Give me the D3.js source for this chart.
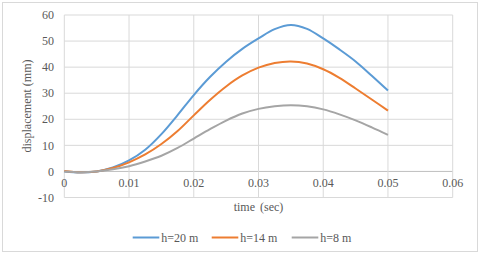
<!DOCTYPE html>
<html>
<head>
<meta charset="utf-8">
<script src="https://d3js.org/d3.v7.min.js"></script>
<style>
  body { margin: 0; background: #fff; }
</style>
</head>
<body>
<div id="chart"></div>
<script>
// time steps (sec) and the displacement (mm) for each height
var times = [0, 0.0025, 0.005, 0.0075, 0.01, 0.0125, 0.015, 0.0175, 0.02, 0.0225, 0.025,
             0.0275, 0.03, 0.0325, 0.035, 0.0375, 0.04, 0.0425, 0.045, 0.0475, 0.05];
var h20 = [0, -0.4, 0, 1.5, 4.2, 8.3, 14.3, 21.6, 29.3, 36.2, 42.1,
           47, 51, 54.6, 56.2, 54.7, 51, 46.8, 42.2, 36.7, 31];
var h14 = [0.2, -0.3, 0, 1.3, 3.5, 6.5, 10.5, 15.5, 21.5, 27.4, 32.6,
           36.8, 39.8, 41.6, 42.2, 41.4, 39.2, 35.9, 31.8, 27.6, 23.3];
var h8 = [0, -0.3, 0, 0.8, 2, 3.8, 6, 9, 12.6, 16.2, 19.5,
          22.2, 24, 25, 25.4, 25, 23.8, 21.9, 19.6, 16.9, 14];
var seriesNames = ["h=20 m", "h=14 m", "h=8 m"];
var xTicks = [0, 0.01, 0.02, 0.03, 0.04, 0.05, 0.06];
var yTicks = [-10, 0, 10, 20, 30, 40, 50, 60];

var width = 480, height = 254;
var colors = ["#5b9bd5", "#ed7d31", "#a5a5a5"];
var font = "Liberation Serif";

var svg = d3.select("#chart").append("svg")
    .attr("width", width)
    .attr("height", height)
    .attr("font-family", font)
    .attr("fill", "#595959");

// chart border
svg.append("rect")
    .attr("x", 2.5).attr("y", 2.5)
    .attr("width", 475).attr("height", 249)
    .attr("fill", "#fff")
    .attr("stroke", "#d9d9d9");

var x = d3.scaleLinear().domain([0, 0.06]).range([64.3, 452.7]);
var y = d3.scaleLinear().domain([-10, 60]).range([197.5, 15]);

// gridlines
svg.append("g").selectAll("line")
    .data(yTicks)
    .enter().append("line")
    .attr("x1", x(0)).attr("x2", x(0.06))
    .attr("y1", function(d) { return y(d); })
    .attr("y2", function(d) { return y(d); })
    .attr("stroke", function(d) { return d == 0 ? "#bfbfbf" : "#d9d9d9"; });

svg.append("g").selectAll("line")
    .data(xTicks)
    .enter().append("line")
    .attr("y1", y(-10)).attr("y2", y(60))
    .attr("x1", function(d) { return x(d); })
    .attr("x2", function(d) { return x(d); })
    .attr("stroke", "#d9d9d9");

// tick labels
svg.append("g").selectAll("text")
    .data(yTicks)
    .enter().append("text")
    .attr("x", 54)
    .attr("y", function(d) { return y(d); })
    .attr("dy", "0.35em")
    .attr("text-anchor", "end")
    .attr("font-size", 12)
    .text(function(d) { return d; });

svg.append("g").selectAll("text")
    .data(xTicks)
    .enter().append("text")
    .attr("x", function(d) { return x(d); })
    .attr("y", 187)
    .attr("text-anchor", "middle")
    .attr("font-size", 12)
    .text(function(d) { return d; });

// axis titles
svg.append("text")
    .attr("x", 258.5).attr("y", 211)
    .attr("text-anchor", "middle")
    .attr("font-size", 12)
    .attr("word-spacing", 2)
    .text("time (sec)");

svg.append("text")
    .attr("transform", "translate(31,106) rotate(-90)")
    .attr("text-anchor", "middle")
    .attr("font-size", 12)
    .text("displacement (mm)");

// lines
var line = d3.line()
    .x(function(d, i) { return x(times[i]); })
    .y(function(d) { return y(d); })
    .curve(d3.curveCatmullRom.alpha(0.5));

var allSeries = [h20, h14, h8];
svg.append("g").selectAll("path")
    .data(allSeries)
    .enter().append("path")
    .attr("d", line)
    .attr("fill", "none")
    .attr("stroke", function(d, i) { return colors[i]; })
    .attr("stroke-width", 2);

// legend
var legendX = [132.7, 211.7, 291.7];
var legend = svg.append("g").selectAll("g")
    .data(seriesNames)
    .enter().append("g")
    .attr("transform", function(d, i) { return "translate(" + legendX[i] + ",237.5)"; });

legend.append("line")
    .attr("x1", 0).attr("x2", 26.6)
    .attr("stroke", function(d, i) { return colors[i]; })
    .attr("stroke-width", 2);

legend.append("text")
    .attr("x", 28.5)
    .attr("dy", "0.35em")
    .attr("font-size", 12)
    .text(function(d) { return d; });
</script>
</body>
</html>
